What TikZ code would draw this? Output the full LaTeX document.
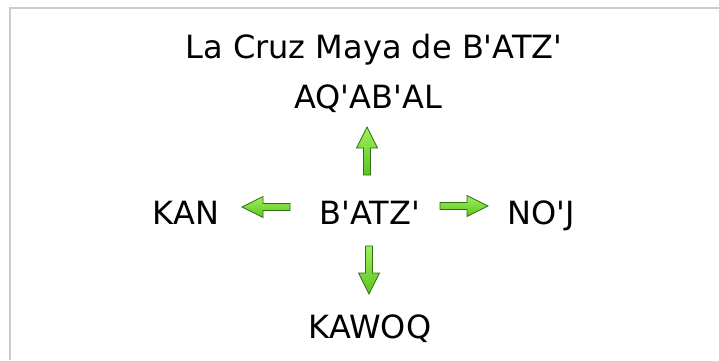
\documentclass[tikz,border=0pt]{standalone}
\usepackage{fontspec}
\setmainfont{DejaVu Sans}
\definecolor{arrtop}{HTML}{9CF05A}
\definecolor{arrbot}{HTML}{5CC421}
\definecolor{arrdark}{HTML}{2F6E14}
\definecolor{framegrey}{HTML}{CCCCCC}
\newcommand{\ap}{\textquotesingle}
\tikzset{
  lbl/.style={font=\fontsize{32}{36}\selectfont, inner sep=0pt, anchor=base},
  pics/garrow/.style={code={
    \draw[arrdark, line width=0.7pt, top color=arrtop, bottom color=arrbot]
      (0,0) -- (-21,10.5) -- (-21,3.5) -- (-48,3.5) -- (-48,-3.5) -- (-21,-3.5) -- (-21,-10.5) -- cycle;
  }}
}
\begin{document}
\begin{tikzpicture}[x=1pt,y=1pt]
\useasboundingbox (0,0) rectangle (719,-360);
\fill[white] (0,0) rectangle (719,-360);
\draw[framegrey, line width=2pt] (9.5,-360) -- (9.5,-7.5) -- (719,-7.5);
\node[lbl] (title) at (374,-58) {La Cruz Maya de B\ap ATZ\ap};
\node[lbl] (aq) at (368,-108) {AQ\ap AB\ap AL};
\node[lbl] (batz) at (370,-224) {B\ap ATZ\ap};
\node[lbl] (kan) at (186,-224) {KAN};
\node[lbl] (noj) at (541,-224) {NO\ap J};
\node[lbl] (kaw) at (370,-338) {KAWOQ};
\pic[rotate=90] (up) at (367,-127) {garrow};
\pic[rotate=-90] (down) at (369,-294) {garrow};
\pic[rotate=180] (left) at (242,-207) {garrow};
\pic (right) at (488,-206) {garrow};
\end{tikzpicture}
\end{document}
